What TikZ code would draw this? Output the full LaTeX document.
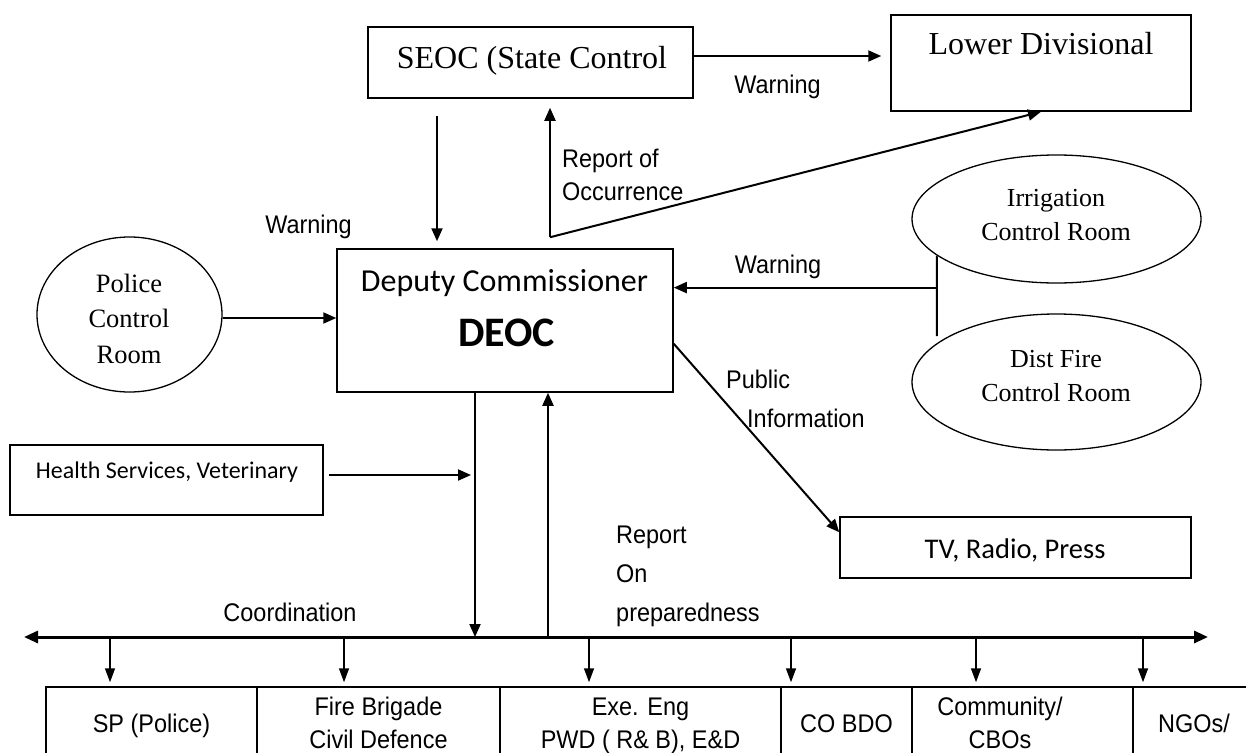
\documentclass[tikz,border=0pt]{standalone}
\usepackage{fontspec}
\setmainfont{Liberation Serif}
\newfontfamily\arialf[FakeStretch=0.92]{Liberation Sans}
\newfontfamily\calf{Carlito}
\usetikzlibrary{arrows.meta,shapes.geometric}
\tikzset{
  rbox/.style 2 args={draw, line width=1.5pt, inner sep=0, minimum width=#1, minimum height=#2},
  ell/.style 2 args={draw, ellipse, line width=1.3pt, inner sep=0, minimum width=#1, minimum height=#2},
  txt/.style={inner sep=0, anchor=base},
  txtw/.style={inner sep=0, anchor=base west},
  tnr/.style={font=\fontsize{32}{38}\selectfont},
  af/.style={font=\arialf\fontsize{25.5}{33}\selectfont},
  arr/.style={line width=2pt, -{Triangle[length=13pt,width=11pt]}},
  arrthin/.style={line width=1.5pt, -{Triangle[length=14pt,width=10pt]}},
  busline/.style={line width=3pt, {Triangle[length=14pt,width=12pt]}-{Triangle[length=14pt,width=12pt]}},
}
\begin{document}
\begin{tikzpicture}[x=1pt,y=-1pt]
\clip (0,0) rectangle (1246,752);
\fill[white] (0,0) rectangle (1246,752);

% ---- shapes ----
\node[rbox={325}{71}] (seoc) at (530.5,62.5) {};
\node[rbox={300}{96}] (ld) at (1041,63) {};
\node[rbox={336}{143}] (deoc) at (505,320.5) {};
\node[ell={185}{155}] (police) at (129.5,314.5) {};
\node[rbox={313}{70}] (hs) at (166.5,480) {};
\node[ell={289}{128}] (irr) at (1056.5,219) {};
\node[ell={289}{136}] (fire) at (1056.5,382) {};
\node[rbox={351}{61}] (tv) at (1015.5,547.5) {};
\node[rbox={211}{73}] (b1) at (151.5,723.5) {};
\node[rbox={243}{73}] (b2) at (378.5,723.5) {};
\node[rbox={281}{73}] (b3) at (640.5,723.5) {};
\node[rbox={131}{73}] (b4) at (846.5,723.5) {};
\node[rbox={221}{73}] (b5) at (1022.5,723.5) {};
\node[rbox={122}{73}] (b6) at (1194,723.5) {};

% ---- texts ----
\node[txt,tnr] (seoct) at (532,68) {SEOC (State Control};
\node[txt,tnr] (ldt) at (1041,55) {Lower Divisional};
\node[txt,af] (warn1) at (777.5,93) {Warning};
\node[txtw,af] (rep1) at (562,167) {\begin{tabular}[t]{@{}l@{}}Report of\\[0pt] Occurrence\end{tabular}};
\node[txt,af] (warn2) at (308.5,233) {Warning};
\node[txt,font=\calf\fontsize{32}{38}\selectfont] (dct) at (504.5,291) {Deputy Commissioner};
\node[txt,font=\calf\bfseries\fontsize{42}{48}\selectfont] (deoct) at (506.5,346) {DEOC};
\node[txt,font=\fontsize{26.5}{35.5}\selectfont] (policet) at (129,292) {\begin{tabular}[t]{@{}c@{}}Police\\Control\\Room\end{tabular}};
\node[txt,font=\fontsize{26}{34}\selectfont] (irrt) at (1056,206) {\begin{tabular}[t]{@{}c@{}}Irrigation\\Control Room\end{tabular}};
\node[txt,font=\fontsize{26}{34}\selectfont] (firet) at (1056,367) {\begin{tabular}[t]{@{}c@{}}Dist Fire\\Control Room\end{tabular}};
\node[txt,af] (warn3) at (778,273) {Warning};
\node[txtw,af] (pubt) at (726,388) {Public};
\node[txtw,af] (infot) at (747,427) {Information};
\node[txt,font=\calf\fontsize{28.5}{34}\selectfont] (tvt) at (1015,558) {TV, Radio, Press};
\node[txt,font=\calf\fontsize{24}{30}\selectfont] (hst) at (167,478) {Health Services, Veterinary};
\node[txtw,font=\arialf\fontsize{25.5}{39}\selectfont] (repb) at (616,543) {\begin{tabular}[t]{@{}l@{}}Report\\On\\preparedness\end{tabular}};
\node[txt,af] (coordt) at (290,621) {Coordination};
\node[txt,af] (t1) at (151.5,732) {SP (Police)};
\node[txt,af] (t2) at (378.5,715) {\begin{tabular}[t]{@{}c@{}}Fire Brigade\\Civil Defence\end{tabular}};
\node[txt,af] (t3) at (640.5,715) {\begin{tabular}[t]{@{}c@{}}Exe. Eng\\PWD ( R\& B), E\&D\end{tabular}};
\node[txt,af] (t4) at (846.5,732) {CO BDO};
\node[txt,af] (t5) at (1000,715) {\begin{tabular}[t]{@{}c@{}}Community/\\CBOs\end{tabular}};
\node[txt,af] (t6) at (1194,732) {NGOs/};

% ---- connectors ----
\draw[arr, shorten >=9pt] ([yshift=6.5pt]seoc.east) -- ([yshift=6.5pt]seoc.east -| ld.west);
\draw[arr, shorten <=17pt, shorten >=7pt] ([xshift=-93.5pt]seoc.south) -- ([xshift=-93.5pt]seoc.south |- deoc.north);
\coordinate (roc) at ([xshift=45pt,yshift=11pt]deoc.north);
\draw[arr, shorten >=9pt] (roc) -- (roc |- seoc.south);
\draw[arr] (roc) -- (ld.south);
\draw[arr] ([yshift=-3.5pt]police.east) -- ([yshift=-3.5pt]police.east -| deoc.west);
\draw[line width=1.8pt] (irr.197) -- ([yshift=7pt]fire.162);
\path (irr.197) ++(0,32) coordinate (jn);
\draw[arr] (jn) -- (jn -| deoc.east);
\draw[arr] ([yshift=49pt]deoc.south east) -- ([yshift=-16pt]tv.north west);
\coordinate (dnb) at (475,637);
\coordinate (upb) at (548,637);
\draw[arr] (deoc.south -| dnb) -- (dnb);
\draw[arr, shorten <=5pt, shorten >=4pt] ([yshift=5pt]hs.east) -- ([yshift=5pt]hs.east -| dnb);
\draw[arr] (upb) -- (upb |- deoc.south);
\coordinate (busl) at (24,637);
\coordinate (busr) at (1208,637);
\draw[busline] (busl) -- (busr);
\foreach \xx/\bb [count=\i] in {110/b1, 344/b2, 589/b3, 791/b4, 976/b5, 1143/b6} {
  \coordinate (d\i) at (\xx,637);
  \draw[arrthin, shorten >=4pt] (d\i) -- (d\i |- \bb.north);
}
\end{tikzpicture}
\end{document}
